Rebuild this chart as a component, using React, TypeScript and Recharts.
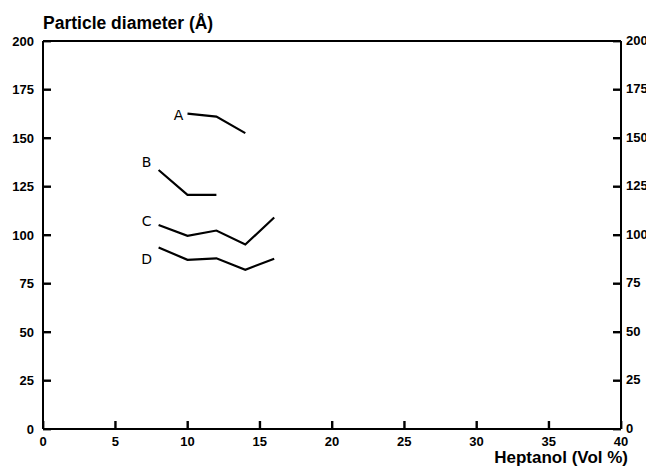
import { LineChart, Line, XAxis, YAxis, LabelList } from "recharts";

const heptanol = [8, 10, 12, 14, 16];
const seriesA = [null, 162.6, 161, 152.5, null];
const seriesB = [133.5, 120.7, 120.7, null, null];
const seriesC = [105.2, 99.6, 102.3, 95.1, 109];
const seriesD = [93.6, 87.2, 88, 82.1, 87.8];

const xTicks = [0, 5, 10, 15, 20, 25, 30, 35, 40];
const yTicks = [0, 25, 50, 75, 100, 125, 150, 175, 200];

const data = heptanol.map((h, i) => ({
  h,
  A: seriesA[i],
  B: seriesB[i],
  C: seriesC[i],
  D: seriesD[i],
}));

const font = "'Liberation Sans', Arial, sans-serif";
const tickFont = { fontFamily: font, fontSize: 13, fontWeight: 700, fill: "#000" };
const axisStroke = { stroke: "#000", strokeWidth: 2 };

// tick marks point inward, as in the original figure
const LeftTick = (p: any) => (
  <g>
    <rect x={p.x} y={p.y - 1} width={8} height={2.4} fill="#000" />
    <text x={p.x - 9} y={p.y} textAnchor="end" dominantBaseline="central" {...tickFont}>
      {p.payload.value}
    </text>
  </g>
);

const RightTick = (p: any) => (
  <g>
    <rect x={p.x - 8} y={p.y - 1} width={8} height={2.4} fill="#000" />
    <text x={p.x + 5} y={p.y - 1} textAnchor="start" dominantBaseline="central" {...tickFont}>
      {p.payload.value}
    </text>
  </g>
);

const BottomTick = (p: any) => (
  <g>
    <rect x={p.x - 1} y={p.y - 8} width={2.4} height={8} fill="#000" />
    <text x={p.x} y={p.y + 12} textAnchor="middle" dominantBaseline="central" {...tickFont}>
      {p.payload.value}
    </text>
  </g>
);

const seriesLabel = (name: string, values: (number | null)[], dx: number, dy: number) => {
  const first = values.findIndex((v) => v !== null);
  return (p: any) => {
    if (p.index !== first || p.x == null || p.y == null) return null;
    return (
      <text
        x={p.x + dx}
        y={p.y + dy}
        textAnchor="middle"
        dominantBaseline="central"
        fontFamily="'DejaVu Sans', sans-serif"
        fontSize={14}
        fill="#000"
      >
        {name}
      </text>
    );
  };
};

export default function App() {
  return (
    <div style={{ position: "relative", width: 646, height: 466 }}>
      <div
        style={{
          position: "absolute",
          left: 35,
          top: 6.6,
          fontFamily: font,
          fontWeight: 700,
          fontSize: 17.5,
          lineHeight: "17px",
          whiteSpace: "nowrap",
        }}
      >
        Particle diameter (Å)
      </div>
      <LineChart
        width={646}
        height={466}
        data={data}
        margin={{ top: 23, right: 3, bottom: 15, left: 5 }}
      >
        <XAxis
          dataKey="h"
          type="number"
          domain={[0, 40]}
          ticks={xTicks}
          interval={0}
          height={30}
          tickSize={0}
          tickMargin={0}
          axisLine={axisStroke}
          tickLine={false}
          tick={BottomTick}
        />
        <XAxis
          xAxisId="top"
          orientation="top"
          dataKey="h"
          type="number"
          domain={[0, 40]}
          height={10}
          tick={false}
          tickLine={false}
          axisLine={axisStroke}
        />
        <YAxis
          domain={[0, 200]}
          ticks={yTicks}
          interval={0}
          width={30}
          tickSize={0}
          tickMargin={0}
          axisLine={axisStroke}
          tickLine={false}
          tick={LeftTick}
        />
        <YAxis
          yAxisId="right"
          orientation="right"
          domain={[0, 200]}
          ticks={yTicks}
          interval={0}
          width={30}
          tickSize={0}
          tickMargin={0}
          axisLine={axisStroke}
          tickLine={false}
          tick={RightTick}
        />
        <Line dataKey="A" stroke="#000" strokeWidth={2.2} dot={false} isAnimationActive={false}>
          <LabelList dataKey="A" content={seriesLabel("A", seriesA, -9, 1)} />
        </Line>
        <Line dataKey="B" stroke="#000" strokeWidth={2.2} dot={false} isAnimationActive={false}>
          <LabelList dataKey="B" content={seriesLabel("B", seriesB, -12, -8)} />
        </Line>
        <Line
          xAxisId="top"
          dataKey="C"
          stroke="#000"
          strokeWidth={2.2}
          dot={false}
          isAnimationActive={false}
        >
          <LabelList dataKey="C" content={seriesLabel("C", seriesC, -12, -4)} />
        </Line>
        <Line
          yAxisId="right"
          dataKey="D"
          stroke="#000"
          strokeWidth={2.2}
          dot={false}
          isAnimationActive={false}
        >
          <LabelList dataKey="D" content={seriesLabel("D", seriesD, -12, 12)} />
        </Line>
      </LineChart>
      <div
        style={{
          position: "absolute",
          right: 26,
          top: 440.6,
          fontFamily: font,
          fontWeight: 700,
          fontSize: 17,
          lineHeight: "17px",
          whiteSpace: "nowrap",
        }}
      >
        Heptanol (Vol %)
      </div>
    </div>
  );
}
